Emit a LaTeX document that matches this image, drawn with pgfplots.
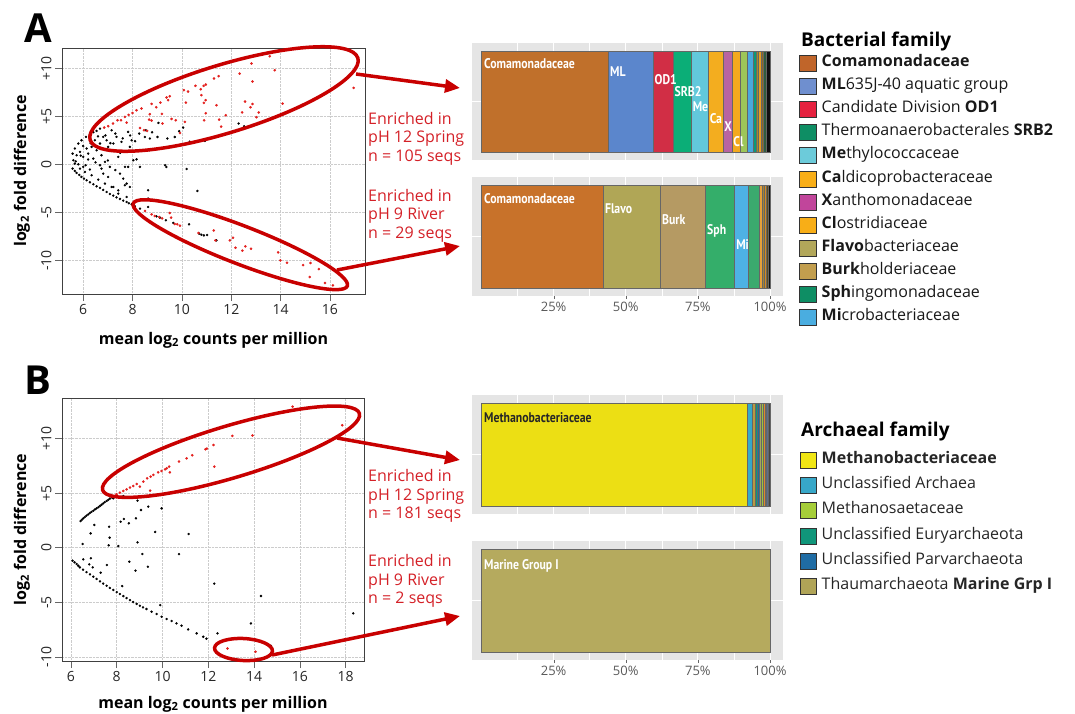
\documentclass[border=0pt]{standalone}
\usepackage{pgfplots}
\pgfplotsset{compat=1.18}
\usepackage{fontspec}
\setmainfont{Open Sans}
\newfontfamily\cond{PT Sans}[FakeStretch=0.84, BoldFont={PT Sans Bold}]
\usetikzlibrary{arrows.meta}
\definecolor{ered}{HTML}{C80000}
\definecolor{tred}{HTML}{D42027}
\definecolor{pred}{HTML}{E3201E}
\definecolor{panelgray}{HTML}{E5E5E5}
% bar colours
\definecolor{a1}{RGB}{192,112,43}\definecolor{a2}{RGB}{91,134,204}\definecolor{a3}{RGB}{209,46,69}
\definecolor{a4}{RGB}{11,174,119}\definecolor{a5}{RGB}{98,200,219}\definecolor{a6}{RGB}{243,173,31}
\definecolor{a7}{RGB}{184,100,162}\definecolor{a8}{RGB}{243,169,30}\definecolor{a9}{RGB}{157,198,88}
\definecolor{a10}{RGB}{74,168,221}\definecolor{a11}{RGB}{10,154,120}\definecolor{a12}{RGB}{168,139,42}
\definecolor{a13}{RGB}{233,160,32}\definecolor{a14}{RGB}{143,107,32}\definecolor{a15}{RGB}{47,94,63}
\definecolor{a16}{RGB}{17,17,17}
\definecolor{b1}{RGB}{200,114,42}\definecolor{b2}{RGB}{176,166,86}\definecolor{b3}{RGB}{181,154,99}
\definecolor{b4}{RGB}{52,174,106}\definecolor{b5}{RGB}{78,178,228}\definecolor{b6}{RGB}{59,170,110}
\definecolor{b7}{RGB}{230,160,58}\definecolor{b8}{RGB}{168,132,44}\definecolor{b9}{RGB}{216,139,31}
\definecolor{b10}{RGB}{90,74,30}\definecolor{b11}{RGB}{17,17,17}
\definecolor{c1}{RGB}{236,223,20}\definecolor{c2}{RGB}{53,169,201}\definecolor{c3}{RGB}{184,154,64}
\definecolor{c4}{RGB}{12,154,120}\definecolor{c5}{RGB}{29,111,160}\definecolor{c6}{RGB}{169,165,92}
\definecolor{c7}{RGB}{157,196,60}\definecolor{c8}{RGB}{224,138,42}\definecolor{c9}{RGB}{210,71,58}
\definecolor{c10}{RGB}{90,111,142}\definecolor{c11}{RGB}{68,68,68}
\definecolor{d1}{RGB}{181,170,94}
% legend colours
\definecolor{k1}{RGB}{192,101,42}\definecolor{k2}{RGB}{111,143,207}\definecolor{k3}{RGB}{229,33,63}
\definecolor{k4}{RGB}{14,142,100}\definecolor{k5}{RGB}{108,203,218}\definecolor{k6}{RGB}{248,174,23}
\definecolor{k7}{RGB}{193,69,155}\definecolor{k8}{RGB}{248,174,23}\definecolor{k9}{RGB}{178,167,90}
\definecolor{k10}{RGB}{194,158,78}\definecolor{k11}{RGB}{14,142,100}\definecolor{k12}{RGB}{74,173,224}
\definecolor{m1}{RGB}{240,230,20}\definecolor{m2}{RGB}{55,167,200}\definecolor{m3}{RGB}{166,206,57}
\definecolor{m4}{RGB}{16,150,122}\definecolor{m5}{RGB}{31,108,164}\definecolor{m6}{RGB}{176,164,87}
\newcommand\barlab[1]{{\cond\bfseries #1}}
\pgfplotsset{
 ma/.style={scale only axis, anchor=north west,
  axis line style={draw=black!75, line width=0.7pt},
  grid=major, major grid style={densely dotted, black!20, line width=0.5pt},
  tick align=outside, xtick pos=bottom, ytick pos=left, major tick length=7pt,
  tick style={black!60, line width=0.6pt},
  ticklabel style={font=\fontsize{14}{14}\selectfont, text=black!85},
  yticklabel style={rotate=90, anchor=south},
  xlabel style={font=\bfseries\fontsize{16}{16}\selectfont, at={(axis description cs:0.5,0)}, anchor=center, yshift=-46pt},
  ylabel style={font=\bfseries\fontsize{16}{16}\selectfont, at={(axis description cs:0,0.5)}, anchor=center, yshift=40pt},
  xlabel={mean log\textsubscript{2} counts per million},
  ylabel={log\textsubscript{2} fold difference}},
 bp/.style={scale only axis, anchor=north west, width=311pt, height=119pt,
  xmin=-3.3, xmax=104.5, ymin=-0.58, ymax=0.58,
  axis background/.style={fill=panelgray}, axis line style={draw=none},
  xbar stacked, bar width=1,
  xtick={25,50,75,100}, minor xtick={12.5,37.5,62.5,87.5}, ytick={0}, yticklabels={},
  grid=both, major grid style={white, line width=0.9pt}, minor grid style={white, line width=0.45pt},
  ytick style={draw=none}, tick align=outside, xtick pos=bottom, major tick length=3pt,
  xtick style={draw=black!60}, minor tick length=0pt,
  xticklabels={25\%,50\%,75\%,100\%},
  ticklabel style={font=\fontsize{13}{13}\selectfont, text=black!65}},
 sg/.style={draw=black!60, line width=0.4pt, fill=#1},
 notick/.style={xticklabels={}, xtick style={draw=none}}
}
\tikzset{bl/.style={anchor=west, text=white, font=\fontsize{14}{14}\selectfont, inner sep=1pt}}
\begin{document}
\begin{tikzpicture}[x=1pt,y=1pt]

% ---------- A scatter ----------
\begin{axis}[ma, at={(62pt,-48pt)}, width=303pt, height=246pt,
  xmin=5.14, xmax=17.42, ymin=-13.5, ymax=12.1,
  xtick={6,8,10,12,14,16}, xticklabels={6,8,10,12,14,16},
  ytick={-10,-5,0,5,10}, yticklabels={-10,-5,0,+5,+10}]
\addplot[only marks, mark=*, mark size=1pt, black] coordinates {
(5.57,1.11)(5.66,1.64)(5.80,2.16)(5.93,2.50)(6.11,2.85)(6.27,3.13)(6.41,3.34)(6.54,3.47)(6.68,3.72)
(5.57,-0.45)(5.73,-0.90)(5.93,-1.32)(6.14,-1.66)(6.41,-2.08)(6.68,-2.46)(6.95,-2.88)(7.22,-3.26)(7.49,-3.61)(7.76,-3.92)(7.96,-4.16)(8.30,-4.61)
(5.66,-0.69)(5.84,-1.11)(6.03,-1.49)(6.27,-1.88)(6.54,-2.29)(6.81,-2.67)(7.08,-3.09)(7.35,-3.44)(7.62,-3.78)(7.85,-4.06)(8.09,-4.37)
(5.66,0.07)(5.87,-0.45)(6.07,-0.80)(6.34,-1.14)(6.61,-1.59)(6.88,-2.01)(7.15,-2.36)(7.42,-2.71)
(5.60,0.42)(5.80,0.0)(6.00,-0.27)(6.27,-0.55)
(5.73,0.94)(5.87,1.29)(6.00,0.77)(6.14,1.64)(6.20,1.11)(6.34,1.81)(6.41,0.59)(6.47,2.50)(6.54,1.46)(6.68,2.16)
(6.74,0.94)(6.81,2.85)(6.88,0.25)(6.95,2.50)(7.01,1.81)(7.08,-0.27)(7.15,3.54)(7.22,2.16)(7.28,1.46)(7.35,2.85)
(7.42,0.77)(7.49,-0.97)(7.55,2.33)(7.62,-1.49)(7.69,-0.27)(7.76,-2.01)(7.82,3.37)(7.89,1.81)(7.96,2.50)(6.68,-0.10)
(6.81,-0.97)(7.01,-1.32)(6.74,-0.45)(7.22,-2.36)(7.42,-3.05)(7.76,-3.40)(7.82,-0.27)(8.03,0.42)(7.69,-2.18)(7.89,-2.36)
(6.9,3.0)(7.3,3.2)(7.6,2.7)(7.1,2.2)(7.9,3.0)(8.1,2.4)(7.5,1.2)(6.6,2.9)(7.0,0.4)(7.3,-0.6)(6.5,0.2)(6.2,0.5)(5.9,0.9)(6.1,-0.1)(5.7,0.3)(6.0,1.9)(6.3,2.2)
(12.30,4.24)(12.52,3.96)(10.93,2.43)(10.32,2.36)(10.19,-0.49)(10.63,-2.78)(10.05,3.82)(9.89,3.44)(9.71,2.84)(9.58,1.80)
(9.44,1.70)(9.41,2.68)(9.37,-0.28)(9.32,-0.10)(9.05,4.30)(9.01,2.84)(8.79,3.33)(8.70,2.68)(8.67,1.46)(8.54,3.54)
(8.50,2.84)(8.27,3.20)(8.16,0.52)(8.30,-0.28)(8.63,-2.71)(8.63,-3.57)(8.63,-4.44)
(8.97,-5.42)(9.11,-5.56)(9.35,-5.83)(9.65,-6.11)(10.29,-6.25)(10.70,-7.22)(10.79,-7.33)(10.89,-7.40)(11.02,-7.36)(11.40,-7.92)
};
\addplot[only marks, mark=*, mark size=1.1pt, pred] coordinates {
(13.56,11.25)(12.82,10.49)(13.76,9.79)(12.34,9.44)(12.86,8.61)(11.49,9.17)(11.30,8.92)(16.96,7.95)(10.97,8.30)(10.88,8.16)
(10.55,8.16)(10.76,7.81)(10.08,7.71)(10.25,7.57)(10.79,7.19)(10.96,6.67)(10.89,6.39)(10.16,6.42)(9.38,6.95)(9.44,6.67)
(9.51,7.08)(9.13,6.42)(8.77,6.28)(8.96,5.94)(12.56,6.53)(12.86,6.28)(12.78,5.94)(12.44,5.39)(13.11,5.39)(13.02,4.90)
(14.08,6.32)(14.04,5.21)(11.40,6.15)(11.78,5.10)(10.97,5.31)(10.90,4.58)(11.51,4.65)(11.59,3.92)(8.36,5.80)(8.16,5.63)
(8.00,5.34)(7.84,5.14)(8.70,5.21)(8.67,4.65)(9.19,5.24)(8.77,4.55)(7.69,4.93)(7.53,4.58)(7.39,4.58)(7.76,4.34)
(7.21,4.24)(7.01,3.96)(6.85,3.82)(9.58,4.72)(9.75,4.58)(9.21,4.24)(10.12,4.41)(9.92,3.26)(8.30,3.78)(8.46,3.54)(8.59,3.47)
(8.50,-4.86)(8.77,-5.21)(8.90,-5.38)(9.08,-5.49)(9.20,-5.63)(9.51,-5.07)(9.56,-5.55)(9.71,-6.22)(9.81,-6.25)(9.92,-6.39)
(11.29,-6.88)(10.67,-7.15)(11.36,-7.92)(11.94,-7.92)(12.07,-7.64)(12.17,-8.68)(12.45,-8.99)(12.57,-8.54)(12.80,-8.78)
(13.90,-9.17)(13.99,-10.0)(14.26,-10.24)(14.91,-10.49)(15.21,-10.28)(15.55,-10.9)(15.18,-11.74)(15.80,-12.36)(16.12,-12.6)
};
\end{axis}

% ---------- B scatter ----------
\begin{axis}[ma, at={(62pt,-398pt)}, width=302pt, height=263pt,
  xmin=5.61, xmax=18.8, ymin=-10.37, ymax=13.7,
  xlabel style={yshift=3pt},
  xtick={6,8,10,12,14,16,18}, xticklabels={6,8,10,12,14,16,18},
  ytick={-10,-5,0,5,10}, yticklabels={-10,-5,0,+5,+10}]
\addplot[only marks, mark=*, mark size=1pt, black] coordinates {
(6.42,2.44)(6.48,2.56)(6.54,2.69)(6.61,2.81)(6.68,2.93)(6.76,3.05)(6.83,3.18)(6.90,3.28)(6.98,3.39)(7.05,3.50)(7.12,3.60)(7.20,3.71)(7.27,3.82)(7.34,3.94)(7.41,4.06)(7.48,4.17)(7.56,4.28)(7.63,4.38)(7.70,4.49)(7.78,4.61)
(7.85,4.52)(8.29,4.73)(8.58,4.58)(8.91,4.61)(8.91,4.31)(9.38,3.76)(9.06,3.45)(9.96,3.60)(8.84,2.69)(8.17,2.38)
(8.31,2.63)(8.53,2.23)(7.67,1.92)(7.02,2.08)(6.86,1.31)(7.69,0.92)(9.68,1.44)(11.14,1.25)(6.51,0.34)(7.65,0.22)
(8.07,0.15)(8.91,0.49)(9.12,-0.58)(10.72,-0.58)(6.54,-1.07)(6.87,-0.97)(6.80,-1.52)(6.95,-1.80)(7.30,-2.29)(7.57,-1.59)
(8.55,-1.28)(9.36,-1.74)(8.82,-2.10)(8.24,-3.51)(12.26,-3.29)(14.30,-4.42)(9.90,-5.25)(13.86,-6.93)(18.33,-6.01)(14.73,-8.97)(12.40,-7.84)
(6.07,-1.19)(6.16,-1.34)(6.25,-1.49)(6.32,-1.65)(6.39,-1.80)(6.53,-2.01)(6.68,-2.23)(6.83,-2.44)(6.98,-2.65)(7.12,-2.86)(7.27,-3.08)(7.41,-3.28)(7.56,-3.48)(7.70,-3.68)(7.85,-3.87)(8.00,-4.06)(8.14,-4.24)(8.29,-4.43)(8.43,-4.61)(8.58,-4.79)(8.72,-4.97)(8.87,-5.14)(9.01,-5.31)(9.15,-5.46)(9.30,-5.61)
(9.52,-5.86)(9.74,-6.07)(9.96,-6.32)(10.18,-6.53)(10.40,-6.71)(10.61,-6.93)(10.83,-7.14)(11.12,-7.48)(11.49,-7.84)(11.78,-8.15)(11.92,-8.33)
};
\addplot[only marks, mark=*, mark size=1.1pt, pred] coordinates {
(15.68,12.91)(17.85,11.20)(13.05,10.23)(13.93,10.26)(11.88,9.01)(11.94,9.07)(12.23,9.40)(12.26,7.42)(11.30,8.46)(11.05,8.18)
(10.72,7.88)(10.29,7.42)(10.32,6.90)(10.18,7.27)(10.11,7.17)(9.96,7.02)(9.81,6.90)(9.60,6.66)(9.48,6.50)(9.33,6.35)
(9.16,6.05)(9.01,5.59)(9.46,5.22)(8.87,5.83)(8.72,5.65)(8.58,5.50)(8.43,5.34)(8.29,5.19)(8.14,5.04)(7.99,4.89)(7.85,4.67)
(12.84,-9.22)(14.06,-9.52)
};
\end{axis}

% ---------- bar panels ----------
\begin{axis}[bp, notick, at={(472pt,-43pt)}, height=117pt,
  after end axis/.code={
   \node[bl] at (axis cs:0.5,0.38) {\barlab{Comamonadaceae}};
   \node[bl] at (axis cs:44.2,0.295) {\barlab{ML}};
   \node[bl] at (axis cs:59.6,0.22) {\barlab{OD1}};
   \node[bl] at (axis cs:66.5,0.096) {\barlab{SRB2}};
   \node[bl] at (axis cs:72.8,-0.05) {\barlab{Me}};
   \node[bl] at (axis cs:78.7,-0.17) {\barlab{Ca}};
   \node[bl] at (axis cs:83.8,-0.25) {\barlab{X}};
   \node[bl] at (axis cs:86.9,-0.40) {\barlab{Cl}};
  }]
\addplot[sg=a1] coordinates {(44.0,0)};
\addplot[sg=a2] coordinates {(15.5,0)};
\addplot[sg=a3] coordinates {(6.9,0)};
\addplot[sg=a4] coordinates {(6.3,0)};
\addplot[sg=a5] coordinates {(5.9,0)};
\addplot[sg=a6] coordinates {(5.1,0)};
\addplot[sg=a7] coordinates {(3.2,0)};
\addplot[sg=a8] coordinates {(2.8,0)};
\addplot[sg=a9] coordinates {(2.4,0)};
\addplot[sg=a10] coordinates {(2.0,0)};
\addplot[sg=a11] coordinates {(1.0,0)};
\addplot[sg=a12] coordinates {(0.9,0)};
\addplot[sg=a13] coordinates {(0.8,0)};
\addplot[sg=a14] coordinates {(0.8,0)};
\addplot[sg=a15] coordinates {(1.0,0)};
\addplot[sg=a16] coordinates {(1.4,0)};
\end{axis}

\begin{axis}[bp, at={(472pt,-177pt)},
  after end axis/.code={
   \node[bl] at (axis cs:0.5,0.37) {\barlab{Comamonadaceae}};
   \node[bl] at (axis cs:42.4,0.27) {\barlab{Flavo}};
   \node[bl] at (axis cs:62.2,0.16) {\barlab{Burk}};
   \node[bl] at (axis cs:77.8,0.05) {\barlab{Sph}};
   \node[bl] at (axis cs:87.9,-0.08) {\barlab{Mi}};
  }]
\addplot[sg=b1] coordinates {(42.2,0)};
\addplot[sg=b2] coordinates {(19.8,0)};
\addplot[sg=b3] coordinates {(15.6,0)};
\addplot[sg=b4] coordinates {(10.1,0)};
\addplot[sg=b5] coordinates {(4.9,0)};
\addplot[sg=b6] coordinates {(3.5,0)};
\addplot[sg=b7] coordinates {(1.3,0)};
\addplot[sg=b8] coordinates {(0.7,0)};
\addplot[sg=b9] coordinates {(0.7,0)};
\addplot[sg=b10] coordinates {(0.6,0)};
\addplot[sg=b11] coordinates {(0.6,0)};
\end{axis}

\begin{axis}[bp, notick, at={(472pt,-395pt)},
  after end axis/.code={
   \node[bl, text=black!85] at (axis cs:0.5,0.36) {\barlab{Methanobacteriaceae}};
  }]
\addplot[sg=c1] coordinates {(92.1,0)};
\addplot[sg=c2] coordinates {(1.7,0)};
\addplot[sg=c3] coordinates {(0.9,0)};
\addplot[sg=c4] coordinates {(0.8,0)};
\addplot[sg=c5] coordinates {(0.8,0)};
\addplot[sg=c6] coordinates {(0.7,0)};
\addplot[sg=c7] coordinates {(0.6,0)};
\addplot[sg=c8] coordinates {(0.6,0)};
\addplot[sg=c9] coordinates {(0.6,0)};
\addplot[sg=c10] coordinates {(0.6,0)};
\addplot[sg=c11] coordinates {(0.6,0)};
\end{axis}

\begin{axis}[bp, at={(472pt,-541pt)},
  after end axis/.code={
   \node[bl] at (axis cs:0.5,0.34) {\barlab{Marine Group I}};
  }]
\addplot[sg=d1] coordinates {(100,0)};
\end{axis}

% ---------- annotations ----------
\begin{scope}[ered, line width=3.5pt]
\draw[rotate around={17:(224,-99)}] (224,-99) ellipse [x radius=140, y radius=34];
\draw[rotate around={-21.1:(240.3,-244.7)}] (240.3,-244.7) ellipse [x radius=114.7, y radius=19];
\draw[rotate around={16.6:(231,-451.7)}] (231,-451.7) ellipse [x radius=134, y radius=26];
\draw[rotate around={-3:(243.5,-649.5)}] (243.5,-649.5) ellipse [x radius=29, y radius=11];
\draw[-{Triangle[length=15pt,width=13pt]}] (356,-74) -- (460,-88);
\draw[-{Triangle[length=15pt,width=13pt]}] (337,-270) -- (460,-246);
\draw[-{Triangle[length=15pt,width=13pt]}] (337,-438) -- (460,-460);
\draw[-{Triangle[length=15pt,width=13pt]}] (272,-655) -- (460,-616);
\end{scope}

\begin{scope}[every node/.style={anchor=base west, text=tred, font=\fontsize{16}{16}\selectfont, inner sep=0pt}]
\node at (368,-124) {Enriched in};
\node at (368,-142.5) {pH 12 Spring};
\node at (368,-161) {n = 105 seqs};
\node at (368,-201) {Enriched in};
\node at (368,-219.5) {pH 9 River};
\node at (368,-238) {n = 29 seqs};
\node at (368,-481.5) {Enriched in};
\node at (368,-500) {pH 12 Spring};
\node at (368,-518.5) {n = 181 seqs};
\node at (368,-566.5) {Enriched in};
\node at (368,-585) {pH 9 River};
\node at (368,-603.5) {n = 2 seqs};
\end{scope}

\node[anchor=base west, font=\bfseries\fontsize{40}{40}\selectfont, inner sep=0pt] at (24,-42) {A};
\node[anchor=base west, font=\bfseries\fontsize{40}{40}\selectfont, inner sep=0pt] at (24,-394) {B};

% ---------- legends ----------
\node[anchor=base west, font=\bfseries\fontsize{19}{19}\selectfont, inner sep=0pt] at (801,-46) {Bacterial family};
\foreach \c/\t [count=\i from 0] in {
 k1/\textbf{Comamonadaceae},
 k2/\textbf{ML}635J-40 aquatic group,
 k3/Candidate Division \textbf{OD1},
 k4/Thermoanaerobacterales \textbf{SRB2},
 k5/\textbf{Me}thylococcaceae,
 k6/\textbf{Ca}ldicoprobacteraceae,
 k7/\textbf{X}anthomonadaceae,
 k8/\textbf{Cl}ostridiaceae,
 k9/\textbf{Flavo}bacteriaceae,
 k10/\textbf{Burk}holderiaceae,
 k11/\textbf{Sph}ingomonadaceae,
 k12/\textbf{Mi}crobacteriaceae} {
 \pgfmathsetmacro\yy{-63.3-23.12*\i}
 \draw[fill=\c, draw=black!80, line width=0.8pt] (799.5,\yy-8) rectangle (816,\yy+8);
 \node[anchor=mid west, font=\fontsize{16}{16}\selectfont, text=black!90, inner sep=0pt] at (821.5,\yy-0.5) {\t};
}

\node[anchor=base west, font=\bfseries\fontsize{19}{19}\selectfont, inner sep=0pt] at (801,-436) {Archaeal family};
\foreach \c/\t [count=\i from 0] in {
 m1/\textbf{Methanobacteriaceae},
 m2/Unclassified Archaea,
 m3/Methanosaetaceae,
 m4/Unclassified Euryarchaeota,
 m5/Unclassified Parvarchaeota,
 m6/Thaumarchaeota \textbf{Marine Grp I}} {
 \pgfmathsetmacro\yy{-460-25.3*\i}
 \draw[fill=\c, draw=black!80, line width=0.8pt] (800,\yy-8) rectangle (816.5,\yy+8);
 \node[anchor=mid west, font=\fontsize{16}{16}\selectfont, text=black!85, inner sep=0pt] at (821.5,\yy-0.5) {\t};
}
\pgfresetboundingbox
\path[use as bounding box] (0,0) rectangle (1075,-713);
\end{tikzpicture}
\end{document}
